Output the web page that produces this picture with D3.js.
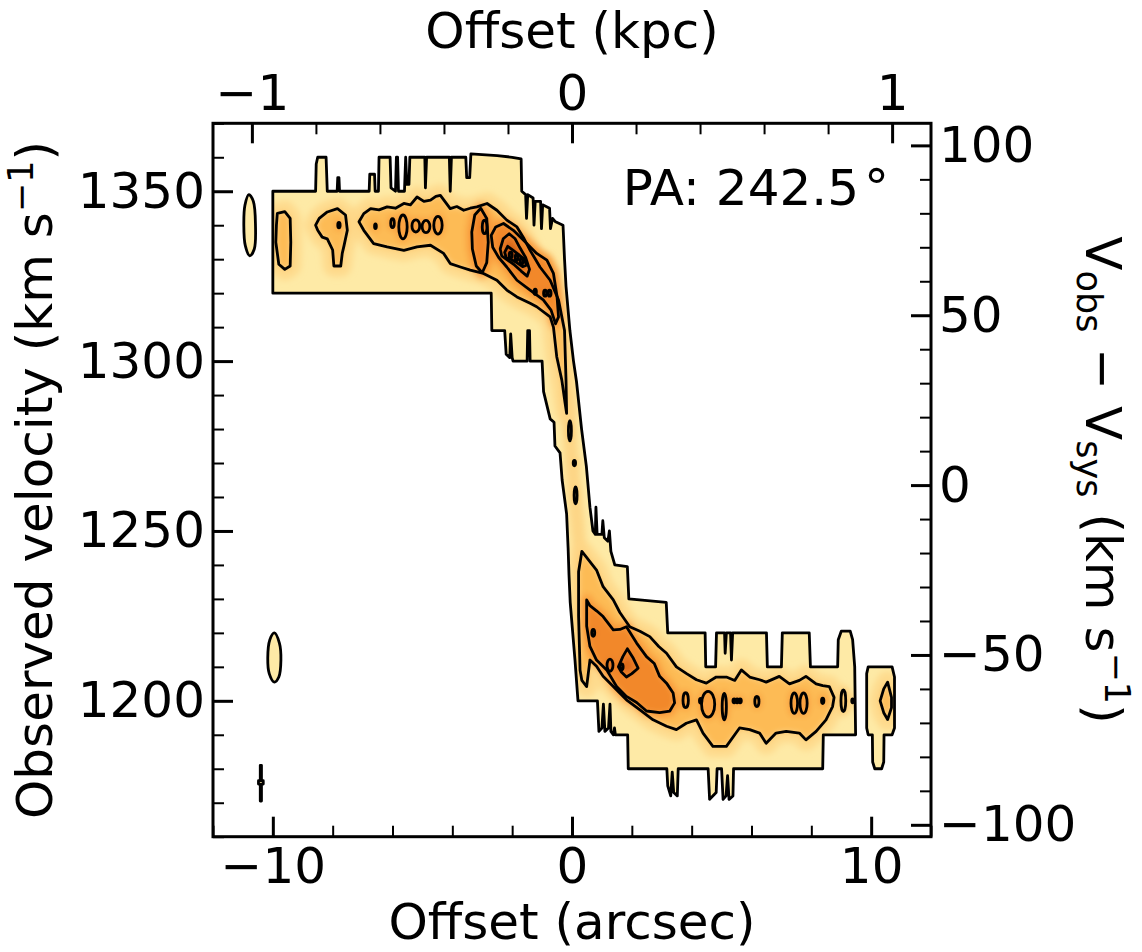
<!DOCTYPE html>
<html>
<head>
<meta charset="utf-8">
<script src="https://cdn.jsdelivr.net/npm/d3@7"></script>
<style>
  body { margin: 0; background: #fff; }
  svg { display: block; font-family: 'DejaVu Sans', sans-serif; }
  .tick text { font-size: 50px; fill: #000; }
  .tick line { stroke: #000; }
  .axis-label { font-size: 50px; fill: #000; }
</style>
</head>
<body>
<svg id="chart" width="1142" height="952"></svg>
<script>
// offsets in arcsec, velocities in km/s (observed)
const offsetDomain = [-12, 12];
const velocityDomain = [1160, 1370];
const vsys = 1263.5;
const arcsecPerKpc = 10.7;
const offsetTicks = [-10, 0, 10];
const kpcTicks = [-1, 0, 1];
const velocityTicks = [1200, 1250, 1300, 1350];
const relVelocityTicks = [-100, -50, 0, 50, 100];
const positionAngle = 242.5;

// outermost contour (level 1)
const outerMain = [
  [-10.0, 1350], [-8.57, 1350], [-8.55, 1358], [-8.5, 1360], [-8.22, 1360], [-8.18, 1350],
  [-7.85, 1350], [-7.83, 1354], [-7.79, 1354], [-7.77, 1350],
  [-6.78, 1350], [-6.76, 1355], [-6.6, 1355], [-6.58, 1350],
  [-6.47, 1350], [-6.45, 1360], [-6.08, 1360], [-6.05, 1351], [-5.9, 1350],
  [-5.87, 1360], [-5.83, 1360], [-5.8, 1350], [-5.6, 1350], [-5.56, 1360],
  [-5.52, 1352], [-5.45, 1352], [-5.42, 1360], [-4.92, 1360], [-4.9, 1351], [-4.86, 1360],
  [-4.1, 1360], [-4.07, 1350], [-4.03, 1360], [-3.55, 1360], [-3.52, 1354], [-3.42, 1354], [-3.38, 1361],
  [-2.5, 1360.5], [-2.0, 1360], [-1.7, 1359.5], [-1.68, 1350],
  [-1.55, 1349], [-1.52, 1342], [-1.48, 1349], [-1.3, 1348], [-1.27, 1340], [-1.23, 1347],
  [-1.05, 1347], [-1.02, 1339], [-0.98, 1346], [-0.75, 1345], [-0.72, 1339], [-0.65, 1342],
  [-0.55, 1341], [-0.3, 1340],
  [-0.25, 1330], [-0.2, 1322], [-0.07, 1309], [0.05, 1300], [0.15, 1294], [0.32, 1280],
  [0.48, 1269], [0.6, 1257], [0.7, 1250],
  [0.78, 1249], [0.8, 1257], [0.84, 1249], [1.0, 1249], [1.03, 1253], [1.08, 1248],
  [1.2, 1247], [1.25, 1250], [1.3, 1244], [1.43, 1240], [1.85, 1239.5], [1.9, 1230],
  [3.15, 1229], [3.2, 1220],
  [4.45, 1220], [4.47, 1210], [4.8, 1210], [4.83, 1220],
  [5.1, 1220], [5.12, 1214], [5.16, 1220], [5.3, 1220], [5.33, 1212], [5.37, 1220],
  [6.5, 1220], [6.53, 1210], [7.0, 1210], [7.03, 1220],
  [7.93, 1220], [7.97, 1210], [8.88, 1210], [8.9, 1218], [9.0, 1220.5], [9.3, 1220.5],
  [9.38, 1218], [9.45, 1210], [9.48, 1190],
  [8.4, 1190], [8.38, 1180],
  [5.4, 1180], [5.38, 1172], [5.25, 1171], [5.2, 1178], [5.15, 1172], [5.05, 1171], [5.0, 1180],
  [4.85, 1180], [4.82, 1173], [4.6, 1171], [4.55, 1180],
  [3.55, 1180], [3.52, 1172], [3.4, 1173], [3.35, 1179], [3.3, 1172], [3.2, 1175], [3.17, 1180],
  [1.88, 1180], [1.86, 1190],
  [1.45, 1190], [1.42, 1192], [1.38, 1190], [1.3, 1191], [1.27, 1199], [1.22, 1192],
  [1.1, 1191], [1.05, 1199], [1.0, 1192], [0.9, 1191], [0.85, 1200],
  [0.2, 1200],
  [0.1, 1212], [-0.06, 1229], [-0.1, 1237], [-0.13, 1245], [-0.18, 1255], [-0.33, 1265],
  [-0.4, 1273], [-0.57, 1275], [-0.6, 1282], [-0.73, 1283], [-0.95, 1291], [-1.0, 1300],
  [-1.4, 1300], [-1.42, 1309], [-1.48, 1309], [-1.5, 1300],
  [-1.97, 1300], [-2.0, 1301], [-2.05, 1308], [-2.08, 1301], [-2.2, 1302], [-2.25, 1309],
  [-2.68, 1309], [-2.7, 1320],
  [-10.0, 1320]
];
const outerRight = [
  [9.85, 1208], [9.9, 1210], [10.7, 1210], [10.78, 1207], [10.78, 1192], [10.7, 1190],
  [10.43, 1190], [10.42, 1182], [10.35, 1180], [10.12, 1180], [10.05, 1182], [10.04, 1190],
  [9.9, 1190], [9.85, 1192]
];
const outerBlobA = [
  [-10.97, 1340], [-10.93, 1346], [-10.8, 1349], [-10.65, 1347],
  [-10.58, 1340], [-10.62, 1333], [-10.77, 1331], [-10.92, 1334]
];
const outerBlobB = [
  [-10.17, 1212.5], [-10.1, 1218], [-9.95, 1220], [-9.78, 1217],
  [-9.73, 1212], [-9.8, 1207], [-9.95, 1205.5], [-10.12, 1208]
];
const outerTick = [
  [-10.42, 1181], [-10.38, 1181], [-10.38, 1176.5], [-10.32, 1176.5], [-10.32, 1175.5],
  [-10.38, 1175.5], [-10.38, 1170.5], [-10.42, 1170.5], [-10.42, 1175.5], [-10.48, 1175.5],
  [-10.48, 1176.5], [-10.42, 1176.5]
];

// level 2
const level2Upper = [
  [-7.12, 1341], [-6.96, 1343.4], [-6.73, 1344.9], [-6.45, 1344.5], [-6.18, 1345.4], [-5.9, 1345],
  [-5.62, 1346.4], [-5.4, 1346], [-5.18, 1348.3], [-4.95, 1347], [-4.73, 1347.4], [-4.55, 1348.5],
  [-4.4, 1348.8], [-4.07, 1344.9], [-3.85, 1345.5], [-3.62, 1344.4], [-3.4, 1345], [-3.18, 1345.4],
  [-2.84, 1346.4], [-2.51, 1344.4], [-2.18, 1341.5], [-1.84, 1339.5], [-1.6, 1336], [-1.4, 1332.6],
  [-1.07, 1327.7], [-0.73, 1323.8], [-0.45, 1318], [-0.25, 1309], [-0.2, 1294.4], [-0.18, 1284.6],
  [-0.23, 1287.6], [-0.34, 1294.4], [-0.51, 1301.3], [-0.62, 1310], [-0.73, 1313], [-1.18, 1316],
  [-1.4, 1317], [-1.84, 1318.9], [-2.18, 1320.9], [-2.51, 1323.8], [-2.96, 1325.8], [-3.4, 1326.8],
  [-3.73, 1327.7], [-4.07, 1328.7], [-4.29, 1331.7], [-4.73, 1334.1], [-5.18, 1333.6],
  [-5.62, 1332.6], [-6.18, 1333.6], [-6.63, 1334.6], [-6.96, 1338.5]
];
const level2Lower = [
  [0.33, 1244], [0.82, 1238.5], [1.04, 1233.6], [1.38, 1229.7], [1.6, 1226], [1.93, 1221.8],
  [2.27, 1220.5], [2.6, 1218.9], [2.9, 1216], [3.16, 1214], [3.49, 1210], [3.83, 1208],
  [4.16, 1206.2], [4.49, 1205.2], [4.82, 1207], [5.16, 1207], [5.44, 1206], [5.66, 1209.1],
  [5.94, 1207], [6.27, 1206.2], [6.49, 1205.5], [6.93, 1207.2], [7.27, 1205], [7.6, 1206],
  [7.82, 1207.2], [8.16, 1205], [8.38, 1204.5], [8.6, 1204.2], [8.76, 1201], [8.71, 1198.3],
  [8.49, 1194.4], [8.16, 1191], [7.82, 1188.5], [7.6, 1190.5], [7.16, 1191], [6.82, 1190.5],
  [6.49, 1187.5], [6.27, 1190.5], [5.94, 1191.5], [5.6, 1192], [5.16, 1186.6], [4.71, 1186.6],
  [4.38, 1190.5], [4.16, 1194.4], [3.82, 1193.4], [3.49, 1191.5], [3.16, 1192.5], [2.71, 1194.4],
  [2.27, 1197.3], [1.82, 1200.3], [1.38, 1204.2], [1.04, 1207.2], [0.82, 1210.2], [0.6, 1212],
  [0.49, 1204.2], [0.33, 1206], [0.27, 1209], [0.22, 1225], [0.22, 1238]
];
const level2IslandA = [
  [-9.85, 1343.5], [-9.6, 1344], [-9.42, 1342], [-9.4, 1335], [-9.42, 1328],
  [-9.6, 1327], [-9.8, 1328.5], [-9.9, 1335], [-9.88, 1340]
];
const level2IslandB = [
  [-8.57, 1340], [-8.45, 1342], [-8.18, 1343.9], [-7.84, 1344.9], [-7.57, 1343],
  [-7.51, 1338.5], [-7.62, 1334], [-7.68, 1331.7], [-7.73, 1328], [-7.96, 1328],
  [-8.0, 1332.7], [-8.18, 1336], [-8.35, 1336.5], [-8.5, 1338.5]
];
const level2IslandC = [
  [10.3, 1200], [10.42, 1203.5], [10.55, 1205.5], [10.68, 1201],
  [10.68, 1198], [10.55, 1194.5], [10.42, 1196.5]
];
// small level-2 islands: [offset, velocity, half-width, half-height]
const level2Spots = [
  [-0.07, 1279.5, 0.05, 3], [0.08, 1270, 0.04, 0.8], [0.12, 1260.5, 0.05, 2.5],
  [9.07, 1200, 0.08, 3.2], [9.38, 1200, 0.03, 0.6]
];
// unlined ridge along the steep part
const ridge = [[-0.2, 1290], [-0.1, 1280], [0.0, 1270], [0.1, 1260], [0.2, 1250], [0.3, 1240]];

// level 3
const level3Upper = [
  [-2.7, 1337], [-2.55, 1339.5], [-2.29, 1340.5], [-1.96, 1338.5], [-1.62, 1335.6],
  [-1.18, 1331.7], [-0.84, 1329.7], [-0.62, 1325.8], [-0.5, 1319], [-0.45, 1313],
  [-0.55, 1311], [-0.7, 1315], [-0.96, 1318], [-1.4, 1320.9], [-1.84, 1323.8],
  [-2.18, 1327.7], [-2.45, 1330.5], [-2.65, 1333.5]
];
const level3Left = [
  [-3.35, 1338], [-3.25, 1343], [-3.05, 1345], [-2.85, 1342], [-2.8, 1335],
  [-2.85, 1329], [-3.0, 1326], [-3.2, 1328], [-3.33, 1333]
];
const level3Lower = [
  [0.49, 1229.7], [0.6, 1228], [0.82, 1226.5], [1.04, 1224.8], [1.38, 1220.9], [1.6, 1221],
  [1.82, 1221.8], [2.16, 1217], [2.49, 1213], [2.75, 1211], [2.93, 1207.2], [3.16, 1205.2],
  [3.38, 1202.3], [3.43, 1199.4], [3.27, 1197], [2.93, 1196.5], [2.49, 1197], [2.16, 1199.5],
  [1.82, 1201.3], [1.49, 1204.2], [1.16, 1209.1], [0.82, 1212], [0.6, 1216], [0.49, 1222]
];
const level3Spots = [
  [-7.79, 1340, 0.04, 0.8], [-6.57, 1339.7, 0.03, 0.7], [-6.0, 1340.6, 0.06, 1.3],
  [-5.65, 1339.5, 0.14, 3.5], [-5.22, 1339.8, 0.13, 1.8], [-4.88, 1339.6, 0.13, 1.8],
  [-4.48, 1340, 0.14, 2.6],
  [3.8, 1200.2, 0.09, 2.2], [4.3, 1200, 0.04, 0.7], [4.55, 1199, 0.22, 3.8],
  [5.09, 1198.3, 0.07, 3.9], [5.42, 1200, 0.04, 0.6], [5.52, 1200, 0.04, 0.6],
  [5.62, 1200, 0.04, 0.6], [6.18, 1199.8, 0.07, 1.5], [7.43, 1199.3, 0.11, 3],
  [7.74, 1199.3, 0.12, 3], [8.38, 1200, 0.04, 0.8]
];

// level 4
const level4Upper = [
  [-2.4, 1333], [-2.3, 1336], [-2.1, 1337.5], [-1.9, 1336], [-1.75, 1333.5], [-1.55, 1330.5],
  [-1.42, 1327], [-1.5, 1325], [-1.7, 1326.5], [-1.95, 1328.5], [-2.2, 1330], [-2.35, 1331]
];
const level4Lower = [
  [1.55, 1210], [1.7, 1213], [1.85, 1215.3], [2.05, 1212.5],
  [2.21, 1209.6], [2.0, 1208], [1.82, 1207], [1.65, 1208.5]
];
const level4Spots = [
  [-2.92, 1339.5, 0.08, 2], [-1.23, 1320.4, 0.04, 0.8], [-0.9, 1320, 0.05, 0.9],
  [-0.75, 1320, 0.05, 0.9], [1.27, 1210.5, 0.1, 1.8], [0.71, 1220, 0.05, 1]
];

// level 5 and peaks
const level5Upper = [
  [-2.25, 1332], [-2.15, 1333.8], [-2.0, 1332.8], [-1.8, 1331.5], [-1.6, 1330],
  [-1.52, 1328.2], [-1.65, 1327.8], [-1.85, 1329], [-2.05, 1330], [-2.2, 1330.5]
];
const level5Spots = [
  [-2.05, 1331.2, 0.05, 0.9], [-1.85, 1330.5, 0.05, 0.9], [-1.68, 1329.5, 0.05, 0.9],
  [1.66, 1210, 0.05, 0.9]
];

const colors = ['#feeaa6', '#fdd686', '#fdbb55', '#faa140', '#f2882b', '#dd6a1a', '#c04c0d'];

// ---- drawing ----
const margin = {top: 123.3, left: 213, right: 211, bottom: 115.3};
const width = 1142 - margin.left - margin.right;
const height = 952 - margin.top - margin.bottom;

const svg = d3.select('#chart');
const chart = svg.append('g')
  .attr('transform', `translate(${margin.left},${margin.top})`);

const x = d3.scaleLinear().domain(offsetDomain).range([0, width]);
const y = d3.scaleLinear().domain(velocityDomain).range([height, 0]);
const xTop = d3.scaleLinear().domain(offsetDomain.map(d => d / arcsecPerKpc)).range([0, width]);
const yRight = d3.scaleLinear().domain(velocityDomain.map(d => d - vsys)).range([height, 0]);

const poly = d3.line().x(d => x(d[0])).y(d => y(d[1])).curve(d3.curveLinearClosed);
const blob = d3.line().x(d => x(d[0])).y(d => y(d[1])).curve(d3.curveCatmullRomClosed);
const open = d3.line().x(d => x(d[0])).y(d => y(d[1])).curve(d3.curveCatmullRom);

const outerPolys = [outerMain, outerRight, outerTick];
const outerBlobs = [outerBlobA, outerBlobB];

const defs = svg.append('defs');
const clip = defs.append('clipPath').attr('id', 'outerClip');
outerPolys.forEach(p => clip.append('path').attr('d', poly(p)));
outerBlobs.forEach(p => clip.append('path').attr('d', blob(p)));
defs.append('filter').attr('id', 'soft')
  .attr('filterUnits', 'userSpaceOnUse')
  .attr('x', -20).attr('y', -20).attr('width', width + 40).attr('height', height + 40)
  .append('feGaussianBlur').attr('stdDeviation', 3);

// outer fill
const fills = chart.append('g');
outerPolys.forEach(p => fills.append('path').attr('d', poly(p)).attr('fill', colors[0]));
outerBlobs.forEach(p => fills.append('path').attr('d', blob(p)).attr('fill', colors[0]));

const soft = fills.append('g').attr('clip-path', 'url(#outerClip)')
  .append('g').attr('filter', 'url(#soft)');

function drawSpots(g, spots, fill, stroke, sw) {
  g.selectAll(null).data(spots).join('ellipse')
    .attr('cx', d => x(d[0])).attr('cy', d => y(d[1]))
    .attr('rx', d => x(d[0] + d[2]) - x(d[0]))
    .attr('ry', d => y(d[1] - d[3]) - y(d[1]))
    .attr('fill', fill)
    .attr('stroke', stroke)
    .attr('stroke-width', sw);
}

const level2Polys = [level2Upper, level2Lower, level2IslandA, level2IslandB, level2IslandC];
const level3Polys = [level3Upper, level3Left, level3Lower];
const level4Polys = [level4Upper, level4Lower];

soft.append('path').attr('d', open(ridge))
  .attr('fill', 'none').attr('stroke', colors[1]).attr('stroke-width', 14)
  .attr('stroke-linecap', 'round');
level2Polys.forEach(p => soft.append('path').attr('d', poly(p))
  .attr('fill', colors[1]).attr('stroke', colors[1]).attr('stroke-width', 22)
  .attr('stroke-linejoin', 'round').attr('stroke-opacity', 0.75));
drawSpots(soft, level2Spots, colors[1], colors[1], 10);
level2Polys.forEach(p => soft.append('path').attr('d', poly(p)).attr('fill', colors[2]));
drawSpots(soft, level2Spots, colors[2], 'none', 0);
level3Polys.forEach(p => soft.append('path').attr('d', poly(p))
  .attr('fill', colors[3]).attr('stroke', colors[3]).attr('stroke-width', 12)
  .attr('stroke-linejoin', 'round'));
drawSpots(soft, level3Spots, colors[3], colors[3], 6);
level3Polys.forEach(p => soft.append('path').attr('d', poly(p)).attr('fill', colors[4]));
level4Polys.forEach(p => soft.append('path').attr('d', poly(p))
  .attr('fill', colors[5]).attr('stroke', colors[4]).attr('stroke-width', 4));
drawSpots(soft, level4Spots, colors[5], 'none', 0);
soft.append('path').attr('d', poly(level5Upper)).attr('fill', colors[6]);
drawSpots(soft, level5Spots, colors[6], 'none', 0);

// contour lines
const lines = chart.append('g')
  .attr('fill', 'none').attr('stroke', '#000').attr('stroke-width', 2.8)
  .attr('stroke-linejoin', 'round');
outerPolys.forEach(p => lines.append('path').attr('d', poly(p)));
outerBlobs.forEach(p => lines.append('path').attr('d', blob(p)));
[...level2Polys, ...level3Polys, ...level4Polys, level5Upper]
  .forEach(p => lines.append('path').attr('d', poly(p)));
drawSpots(lines, [...level2Spots, ...level3Spots, ...level4Spots, ...level5Spots], 'none', '#000', 2.8);

// axes (ticks inward)
const fmt = d3.format('d');
function styleAxis(g) {
  g.select('.domain').remove();
  g.attr('font-family', null).attr('font-size', null);
}
const majorW = 3, minorW = 2, majorL = 20, minorL = 11;

chart.append('g').attr('transform', `translate(0,${height})`)
  .call(d3.axisBottom(x).tickValues(d3.range(-12, 12.1, 2).filter(v => !offsetTicks.includes(v)))
    .tickSizeInner(-minorL).tickSizeOuter(0).tickFormat(''))
  .call(styleAxis).selectAll('line').attr('stroke-width', minorW);
chart.append('g').attr('transform', `translate(0,${height})`)
  .call(d3.axisBottom(x).tickValues(offsetTicks).tickSizeInner(-majorL).tickSizeOuter(0)
    .tickPadding(11).tickFormat(fmt))
  .call(styleAxis).selectAll('line').attr('stroke-width', majorW);

chart.append('g')
  .call(d3.axisTop(xTop).tickValues(d3.range(-1, 1.01, 0.2).filter(v => Math.abs(v - Math.round(v)) > 0.01))
    .tickSizeInner(-minorL).tickSizeOuter(0).tickFormat(''))
  .call(styleAxis).selectAll('line').attr('stroke-width', minorW);
chart.append('g')
  .call(d3.axisTop(xTop).tickValues(kpcTicks).tickSizeInner(-majorL).tickSizeOuter(0)
    .tickPadding(13).tickFormat(fmt))
  .call(styleAxis).selectAll('line').attr('stroke-width', majorW);

chart.append('g')
  .call(d3.axisLeft(y).tickValues(d3.range(1160, 1371, 10).filter(v => !velocityTicks.includes(v)))
    .tickSizeInner(-minorL).tickSizeOuter(0).tickFormat(''))
  .call(styleAxis).selectAll('line').attr('stroke-width', minorW);
chart.append('g')
  .call(d3.axisLeft(y).tickValues(velocityTicks).tickSizeInner(-majorL).tickSizeOuter(0)
    .tickPadding(8).tickFormat(fmt))
  .call(styleAxis).selectAll('line').attr('stroke-width', majorW);

chart.append('g').attr('transform', `translate(${width},0)`)
  .call(d3.axisRight(yRight).tickValues(d3.range(-100, 101, 10).filter(v => !relVelocityTicks.includes(v)))
    .tickSizeInner(-minorL).tickSizeOuter(0).tickFormat(''))
  .call(styleAxis).selectAll('line').attr('stroke-width', minorW);
chart.append('g').attr('transform', `translate(${width},0)`)
  .call(d3.axisRight(yRight).tickValues(relVelocityTicks).tickSizeInner(-majorL).tickSizeOuter(0)
    .tickPadding(8).tickFormat(fmt))
  .call(styleAxis).selectAll('line').attr('stroke-width', majorW);

// frame
chart.append('rect')
  .attr('width', width).attr('height', height)
  .attr('fill', 'none').attr('stroke', '#000').attr('stroke-width', 3);

// labels
svg.append('text').attr('class', 'axis-label')
  .attr('x', margin.left + width / 2).attr('y', 939)
  .attr('text-anchor', 'middle').text('Offset (arcsec)');
svg.append('text').attr('class', 'axis-label')
  .attr('x', margin.left + width / 2).attr('y', 48)
  .attr('text-anchor', 'middle').text('Offset (kpc)');

const yl = svg.append('text').attr('class', 'axis-label')
  .attr('transform', `translate(52,${margin.top + height / 2}) rotate(-90)`)
  .attr('text-anchor', 'middle');
yl.append('tspan').text('Observed velocity (km s');
yl.append('tspan').attr('font-size', 35).attr('dy', -19).text('−1');
yl.append('tspan').attr('dy', 19).text(')');

const yr = svg.append('text').attr('class', 'axis-label')
  .attr('transform', `translate(1086,${margin.top + height / 2}) rotate(90)`)
  .attr('text-anchor', 'middle');
yr.append('tspan').text('V');
yr.append('tspan').attr('font-size', 35).attr('dy', 9).text('obs');
yr.append('tspan').attr('dy', -9).text(' − V');
yr.append('tspan').attr('font-size', 35).attr('dy', 9).text('sys');
yr.append('tspan').attr('dy', -9).text(' (km s');
yr.append('tspan').attr('font-size', 35).attr('dy', -19).text('−1');
yr.append('tspan').attr('dy', 19).text(')');

const pa = chart.append('text').attr('class', 'axis-label')
  .attr('x', width - 42).attr('y', 82)
  .attr('text-anchor', 'end');
pa.append('tspan').text(`PA: ${positionAngle}`);
pa.append('tspan').attr('dx', 5).text('°');
</script>
</body>
</html>
